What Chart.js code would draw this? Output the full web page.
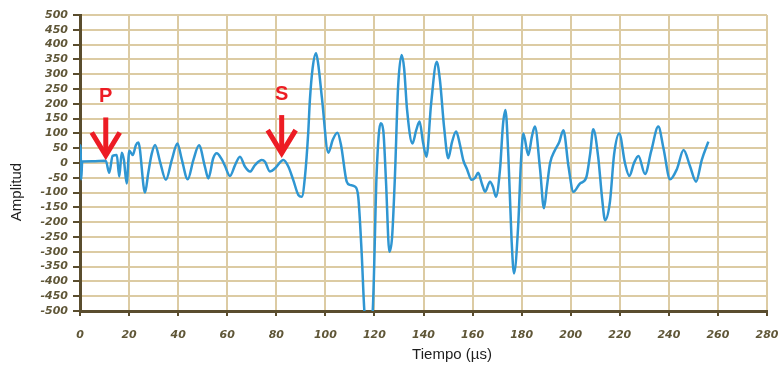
<!DOCTYPE html>
<html>
<head>
<meta charset="utf-8">
<script src="https://cdn.jsdelivr.net/npm/chart.js@4.4.1/dist/chart.umd.min.js"></script>
<style>
    html, body { margin: 0; padding: 0; background: #fff; }
    #wrap { position: relative; width: 781px; height: 367px; }
</style>
</head>
<body>
<div id="wrap"><canvas id="chart" width="781" height="367"></canvas></div>
<script>
// Signal: time in microseconds, amplitude
const timeUs = [
    0, 0.2, 0.5, 0.9, 5, 10.5, 11.9, 13.3, 15.0, 16.0,
    17.0, 17.9, 19.0, 20.1, 21.5, 22.8, 23.8, 26.5, 27.8, 29.2,
    30.6, 32.6, 35.0, 37.4, 39.7, 41.4, 43.9, 46.2, 48.5, 50.9,
    52.3, 54.3, 55.7, 57.8, 59.1, 61.1, 63.2, 65.2, 67.2, 69.3,
    71.3, 74.1, 75.4, 77.4, 79.5, 82.9, 84.9, 86.9, 89.0, 90.4,
    91.7, 93.0, 93.7, 94.8, 96.2, 97.0, 98.6, 101.2, 103.1, 104.9,
    106.4, 108.7, 110.0, 112.1, 113.4, 114.8, 115.9, 117.4, 119.3, 120.9,
    122.5, 123.6, 124.7, 126.1, 127.2, 128.4, 129.6, 131.1, 132.1, 133.3,
    135.5, 137.0, 138.4, 139.8, 141.2, 143.1, 145.4, 146.7, 148.4, 150.1,
    151.6, 153.3, 154.9, 156.2, 157.7, 159.6, 161.0, 162.3, 163.8, 165.1,
    167.1, 168.3, 169.5, 171.2, 172.4, 173.4, 174.6, 175.9, 176.9, 178.6,
    179.7, 180.7, 182.7, 184.2, 185.4, 187.5, 189.1, 190.3, 191.6, 193.6,
    195.3, 197.0, 199.1, 201.1, 203.8, 206.3, 207.9, 209.2, 211.2, 212.8,
    214.0, 216.0, 217.7, 219.8, 222.1, 223.9, 225.8, 227.6, 230.3, 232.8,
    235.7, 237.8, 240.5, 243.3, 246.0, 248.6, 251.1, 253.4, 256.1,
];
const amplitude = [
    0, 60, -55, 5, 6, 8, -33, 24, 27, -46,
    35, 10, -69, 41, 27, 61, 69, -100, -35, 30,
    61, 5, -57, 10, 66, 15, -55, 10, 60, -12,
    -52, 16, 33, 12, -10, -44, -7, 21, -12, -29,
    -7, 10, 4, -29, -18, 10, -12, -57, -108, -114,
    -45, 100, 213, 320, 371, 340, 220, 35, 80, 102,
    60, -63, -74, -80, -114, -304, -500, -580, -500, -35,
    134, 110, -60, -300, -250, -35, 250, 365, 320, 180,
    66, 110, 140, 70, 21, 200, 342, 280, 120, 16,
    70, 106, 60, 10, -20, -57, -50, -33, -70, -97,
    -63, -80, -114, -20, 130, 179, 20, -260, -373, -210,
    0, 100, 27, 90, 123, -20, -153, -80, 0, 44,
    70, 111, -12, -97, -69, -50, 30, 114, 20, -120,
    -193, -130, 30, 100, 0, -44, 0, 24, -37, 40,
    123, 50, -55, -20, 44, -10, -63, 10, 72,
];

const xTicks = [0, 20, 40, 60, 80, 100, 120, 140, 160, 180, 200, 220, 240, 260, 280];
const yTicks = [-500, -450, -400, -350, -300, -250, -200, -150, -100, -50,
    0, 50, 100, 150, 200, 250, 300, 350, 400, 450, 500];

// Arrival markers (P and S waves), positioned in data units
const markerLabels = ['P', 'S'];
const markerTimes = [10.5, 82.2];
const markerAmps = [12, 20];

const LINE = '#2f96d2';
const GRID = '#dccba3';
const AXIS = '#5a4d2e';
const TICK_TEXT = '#5f5637';
const ARROW = '#ed1c24';

const tickFont = {family: '"DejaVu Sans", sans-serif', size: 11, weight: 'bold', style: 'italic'};

// Arrows, letters and axis titles
const annotate = {
    id: 'annotate',
    afterDatasetsDraw(chart) {
        const {ctx, scales: {x, y}} = chart;
        ctx.save();
        markerLabels.forEach((label, i) => {
            const px = x.getPixelForValue(markerTimes[i]);
            const py = y.getPixelForValue(markerAmps[i]);
            ctx.strokeStyle = ARROW;
            ctx.lineWidth = 5;
            ctx.lineJoin = 'miter';
            ctx.beginPath();
            ctx.moveTo(px, py - 42);
            ctx.lineTo(px, py - 4);
            ctx.stroke();
            ctx.beginPath();
            ctx.moveTo(px - 14, py - 27);
            ctx.lineTo(px, py - 4);
            ctx.lineTo(px + 14, py - 27);
            ctx.stroke();
            ctx.fillStyle = ARROW;
            ctx.font = 'bold 20px "Liberation Sans", Arial, sans-serif';
            ctx.textAlign = 'center';
            ctx.textBaseline = 'middle';
            ctx.fillText(label, px, py - 63);
        });

        ctx.fillStyle = '#1e1e1e';
        ctx.font = '15px "Liberation Sans", Arial, sans-serif';
        ctx.textAlign = 'center';
        ctx.textBaseline = 'middle';
        ctx.fillText('Tiempo (\u00b5s)', 452, 355);
        ctx.translate(17, 192);
        ctx.rotate(-Math.PI / 2);
        ctx.fillText('Amplitud', 0, 0);
        ctx.restore();
    },
};

new Chart(document.getElementById('chart'), {
    type: 'line',
    data: {
        datasets: [{
            label: 'Amplitud',
            data: timeUs.map((t, i) => ({x: t, y: amplitude[i]})),
            borderColor: LINE,
            borderWidth: 2.5,
            pointRadius: 0,
            fill: false,
            cubicInterpolationMode: 'monotone',
        }],
    },
    options: {
        responsive: false,
        animation: false,
        layout: {padding: {top: 15, right: 14, left: 0, bottom: 0}},
        plugins: {
            legend: {display: false},
            tooltip: {enabled: false},
        },
        scales: {
            x: {
                type: 'linear',
                min: 0,
                max: 280,
                afterBuildTicks: axis => { axis.ticks = xTicks.map(v => ({value: v})); },
                afterFit: axis => {
                    axis.height = 56;
                    axis.paddingLeft = 0;
                    axis.paddingRight = 0;
                },
                grid: {color: GRID, lineWidth: 2, tickColor: AXIS, tickLength: 5, tickWidth: 2},
                border: {color: AXIS, width: 3},
                ticks: {color: TICK_TEXT, font: tickFont, padding: 13, maxRotation: 0, autoSkip: false},
            },
            y: {
                min: -500,
                max: 500,
                afterBuildTicks: axis => { axis.ticks = yTicks.map(v => ({value: v})); },
                afterFit: axis => {
                    axis.width = 80;
                    axis.paddingTop = 0;
                    axis.paddingBottom = 0;
                },
                grid: {color: GRID, lineWidth: 2, tickColor: AXIS, tickLength: 7, tickWidth: 2},
                border: {color: AXIS, width: 3},
                ticks: {color: TICK_TEXT, font: tickFont, padding: 5, autoSkip: false},
            },
        },
    },
    plugins: [annotate],
});
</script>
</body>
</html>
